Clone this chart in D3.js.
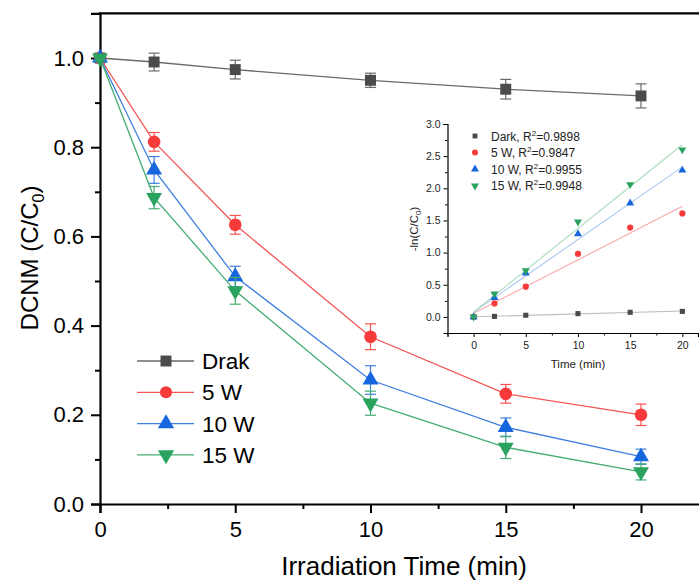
<!DOCTYPE html>
<html>
<head>
<meta charset="UTF-8">
<script src="https://d3js.org/d3.v7.min.js"></script>
<style>
  body { margin: 0; background: #fff; }
  svg { font-family: "Liberation Sans", Arial, sans-serif; }
</style>
</head>
<body>
<div id="chart"></div>
<script>
// main plot data
const times = [0, 2, 5, 10, 15, 20];
const seriesNames = ["Drak", "5 W", "10 W", "15 W"];
const darkVals = [1.0, 0.991, 0.974, 0.950, 0.930, 0.915];
const w5Vals = [1.0, 0.812, 0.626, 0.375, 0.247, 0.200];
const w10Vals = [1.0, 0.749, 0.510, 0.278, 0.172, 0.106];
const w15Vals = [1.0, 0.687, 0.478, 0.226, 0.127, 0.072];
const darkErr = [0.004, 0.020, 0.021, 0.016, 0.022, 0.027];
const w5Err = [0.004, 0.021, 0.021, 0.029, 0.021, 0.024];
const w10Err = [0.006, 0.030, 0.023, 0.032, 0.021, 0.017];
const w15Err = [0.006, 0.025, 0.030, 0.027, 0.025, 0.018];

// inset (kinetics) data
const insetNames = ["Dark, R", "5 W, R", "10 W, R", "15 W, R"];
const insetR2 = ["=0.9898", "=0.9847", "=0.9955", "=0.9948"];
const darkLn = [0, 0.008, 0.026, 0.051, 0.072, 0.086];
const w5Ln = [0, 0.21, 0.47, 0.98, 1.39, 1.61];
const w10Ln = [0, 0.30, 0.68, 1.29, 1.77, 2.28];
const w15Ln = [0, 0.36, 0.72, 1.48, 2.06, 2.60];

const xTicks = [0, 5, 10, 15, 20];
const yTicks = [0.0, 0.2, 0.4, 0.6, 0.8, 1.0];
const insetYTicks = [0.0, 0.5, 1.0, 1.5, 2.0, 2.5, 3.0];

const colors = ["#4b4b4b", "#f73b3b", "#1766dd", "#2aa35e"];
const lineColors = ["#6a6a6a", "#f55454", "#3f7fe0", "#45ad72"];
const fitColors = ["#bdbdbd", "#f8a9a9", "#a9c7f2", "#abdcbd"];
const symbols = [d3.symbolSquare, d3.symbolCircle, d3.symbolTriangle, d3.symbolTriangle];
const flips = [0, 0, 0, 180];

const W = 699, H = 582;
const svg = d3.select("#chart").append("svg").attr("width", W).attr("height", H);

// ---------- main chart ----------
const x = d3.scaleLinear().domain([0, 22.2]).range([100, 100 + 22.2 * 27.05]);
const y = d3.scaleLinear().domain([0, 1.1]).range([504, 13.4]);

const mainVals = [darkVals, w5Vals, w10Vals, w15Vals];
const mainErr = [darkErr, w5Err, w10Err, w15Err];

// axes
const xAxis = svg.append("g").attr("transform", "translate(0,504)")
  .call(d3.axisBottom(x).tickValues(xTicks).tickFormat(d3.format("d")).tickSize(9).tickPadding(8));
svg.append("g").attr("transform", "translate(0,504)")
  .call(d3.axisBottom(x).tickValues([2.5, 7.5, 12.5, 17.5]).tickFormat("").tickSize(5))
  .select(".domain").remove();
const yAxis = svg.append("g").attr("transform", "translate(100,0)")
  .call(d3.axisLeft(y).tickValues(yTicks).tickFormat(d3.format(".1f")).tickSize(9).tickPadding(7));
svg.append("g").attr("transform", "translate(100,0)")
  .call(d3.axisLeft(y).tickValues([0.1, 0.3, 0.5, 0.7, 0.9]).tickFormat("").tickSize(5))
  .select(".domain").remove();
svg.append("line").attr("x1", 99).attr("x2", W).attr("y1", y(1.1)).attr("y2", y(1.1))
  .attr("stroke", "#000").attr("stroke-width", 2.2);

svg.selectAll(".domain").attr("stroke-width", 2.2);
svg.selectAll(".tick line").attr("stroke-width", 2);
xAxis.selectAll("text").attr("font-size", 22).attr("fill", "#000");
yAxis.selectAll("text").attr("font-size", 22).attr("fill", "#000");

svg.append("text").attr("x", 404).attr("y", 575).attr("text-anchor", "middle")
  .attr("font-size", 26).text("Irradiation Time (min)");
const yt = svg.append("text").attr("transform", "translate(38,258) rotate(-90)")
  .attr("text-anchor", "middle").attr("font-size", 24);
yt.append("tspan").text("DCNM (C/C");
yt.append("tspan").attr("font-size", 16).attr("dy", 6).text("0");
yt.append("tspan").attr("dy", -6).text(")");

const line = d3.line().x((d, i) => x(times[i])).y(d => y(d));

mainVals.forEach((vals, s) => {
  const g = svg.append("g");
  g.append("path").attr("d", line(vals)).attr("fill", "none")
    .attr("stroke", lineColors[s]).attr("stroke-width", 1.3);
  // error bars
  vals.forEach((v, i) => {
    const e = mainErr[s][i], cx = x(times[i]);
    g.append("line").attr("x1", cx).attr("x2", cx).attr("y1", y(v - e)).attr("y2", y(v + e))
      .attr("stroke", lineColors[s]).attr("stroke-width", 1.2);
    [v - e, v + e].forEach(b => g.append("line").attr("x1", cx - 5.5).attr("x2", cx + 5.5)
      .attr("y1", y(b)).attr("y2", y(b)).attr("stroke", lineColors[s]).attr("stroke-width", 1.2));
  });
  const size = s === 0 ? 120 : (s === 1 ? 125 : 110);
  g.selectAll("path.m").data(vals).enter().append("path").attr("class", "m")
    .attr("d", d3.symbol().type(symbols[s]).size(size))
    .attr("transform", (d, i) => `translate(${x(times[i])},${y(d)}) rotate(${flips[s]})`)
    .attr("fill", colors[s]);
});

// main legend
seriesNames.forEach((n, s) => {
  const ly = 361 + s * 31.3;
  svg.append("line").attr("x1", 137).attr("x2", 194).attr("y1", ly).attr("y2", ly)
    .attr("stroke", lineColors[s]).attr("stroke-width", 1.3);
  svg.append("path").attr("d", d3.symbol().type(symbols[s]).size(s === 0 ? 120 : 115)())
    .attr("transform", `translate(166,${ly}) rotate(${flips[s]})`).attr("fill", colors[s]);
  svg.append("text").attr("x", 202).attr("y", ly + 8).attr("font-size", 22.5).text(n);
});

// ---------- inset ----------
const ix = d3.scaleLinear().domain([-2.5, 21.5]).range([447.5, 698]);
const iy = d3.scaleLinear().domain([-0.25, 3.0]).range([333, 124]);
const insetVals = [darkLn, w5Ln, w10Ln, w15Ln];

const ixAxis = svg.append("g").attr("transform", "translate(0,333)")
  .call(d3.axisBottom(ix).tickValues(xTicks).tickFormat(d3.format("d")).tickSize(4).tickPadding(5));
svg.append("g").attr("transform", "translate(0,333)")
  .call(d3.axisBottom(ix).tickValues([-2.5, 2.5, 7.5, 12.5, 17.5]).tickFormat("").tickSize(2.5))
  .select(".domain").remove();
const iyAxis = svg.append("g").attr("transform", "translate(447.5,0)")
  .call(d3.axisLeft(iy).tickValues(insetYTicks).tickFormat(d3.format(".1f")).tickSize(4).tickPadding(3));
svg.append("g").attr("transform", "translate(447.5,0)")
  .call(d3.axisLeft(iy).tickValues([-0.25, 0.25, 0.75, 1.25, 1.75, 2.25, 2.75]).tickFormat("").tickSize(2.5))
  .select(".domain").remove();
[ixAxis, iyAxis].forEach(a => {
  a.select(".domain").attr("stroke-width", 1.2);
  a.selectAll(".tick line").attr("stroke-width", 1);
  a.selectAll("text").attr("font-size", 10.5).attr("fill", "#222");
});

svg.append("text").attr("x", 578).attr("y", 368).attr("text-anchor", "middle")
  .attr("font-size", 11.5).attr("fill", "#222").text("Time (min)");
const iyt = svg.append("text").attr("transform", "translate(418,229) rotate(-90)")
  .attr("text-anchor", "middle").attr("font-size", 11.5).attr("fill", "#222");
iyt.append("tspan").text("-ln(C/C");
iyt.append("tspan").attr("font-size", 8).attr("dy", 3).text("0");
iyt.append("tspan").attr("dy", -3).text(")");

// linear fits (least squares on the read values)
insetVals.forEach((vals, s) => {
  const mx = d3.mean(times), my = d3.mean(vals);
  const sxy = d3.sum(times, (t, i) => (t - mx) * (vals[i] - my));
  const sxx = d3.sum(times, t => (t - mx) * (t - mx));
  const k = sxy / sxx, b = my - k * mx;
  svg.append("line").attr("x1", ix(0)).attr("y1", iy(b)).attr("x2", ix(20)).attr("y2", iy(b + 20 * k))
    .attr("stroke", fitColors[s]).attr("stroke-width", 1.1);
});
insetVals.forEach((vals, s) => {
  svg.append("g").selectAll("path").data(vals).enter().append("path")
    .attr("d", d3.symbol().type(symbols[s]).size(s === 0 ? 26 : (s === 1 ? 30 : 28)))
    .attr("transform", (d, i) => `translate(${ix(times[i])},${iy(d)}) rotate(${flips[s]})`)
    .attr("fill", colors[s]);
});

// inset legend
insetNames.forEach((n, s) => {
  const ly = 136 + s * 16.6;
  svg.append("path").attr("d", d3.symbol().type(symbols[s]).size(s === 0 ? 24 : 28)())
    .attr("transform", `translate(475,${ly}) rotate(${flips[s]})`).attr("fill", colors[s]);
  const t = svg.append("text").attr("x", 491).attr("y", ly + 4.5).attr("font-size", 12).attr("fill", "#222");
  t.append("tspan").text(n);
  t.append("tspan").attr("font-size", 8).attr("dy", -5).text("2");
  t.append("tspan").attr("dy", 5).text(insetR2[s]);
});
</script>
</body>
</html>
